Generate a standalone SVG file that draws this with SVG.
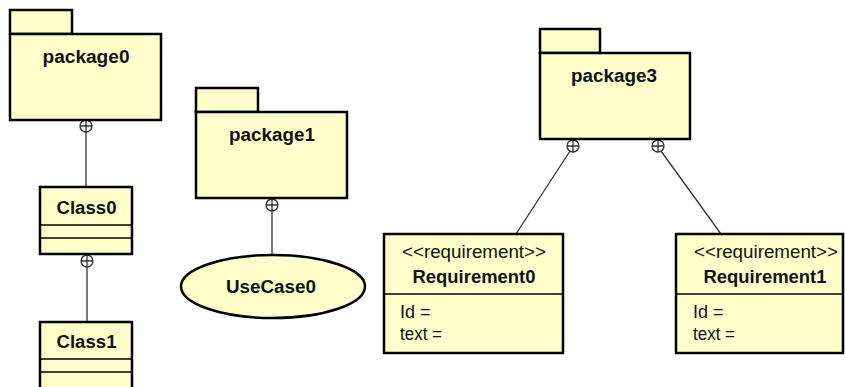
<svg xmlns="http://www.w3.org/2000/svg" width="845" height="387" viewBox="0 0 845 387">
<style>
.box{fill:#ffffcc;stroke:#000;stroke-width:2.5}
.div{stroke:#000;stroke-width:1.5}
.t{font-family:"Liberation Sans",Arial,sans-serif;font-size:18px;fill:#111}
.b{font-weight:bold;text-anchor:middle}
.s{text-anchor:middle}
.ln{stroke:#333;stroke-width:1.3;fill:none}
.cp{fill:#fff;stroke:#333;stroke-width:1.3}
</style>
<rect width="845" height="387" fill="#fff"/>
<g id="connectors">
<line class="ln" x1="86" y1="132" x2="86" y2="187"/>
<circle class="cp" cx="86" cy="126" r="6"/><path class="ln" d="M80 126H92M86 120V132"/>
<line class="ln" x1="87" y1="267" x2="87" y2="322"/>
<circle class="cp" cx="87" cy="261" r="6"/><path class="ln" d="M81 261H93M87 255V267"/>
<line class="ln" x1="272" y1="211" x2="272" y2="255"/>
<circle class="cp" cx="272" cy="205" r="6"/><path class="ln" d="M266 205H278M272 199V211"/>
<line class="ln" x1="570" y1="151" x2="516" y2="234"/>
<circle class="cp" cx="573" cy="146" r="6"/><path class="ln" d="M567 146H579M573 140V152"/>
<line class="ln" x1="661" y1="151" x2="721" y2="234"/>
<circle class="cp" cx="658" cy="146" r="6"/><path class="ln" d="M652 146H664M658 140V152"/>
</g>
<g id="package0">
<rect class="box" x="10" y="10" width="62" height="24"/>
<rect class="box" x="10" y="34" width="151" height="86"/>
<text class="t b" x="86" y="63" textLength="87" lengthAdjust="spacingAndGlyphs">package0</text>
</g>
<g id="package1">
<rect class="box" x="196" y="88" width="62" height="24"/>
<rect class="box" x="196" y="112" width="151" height="86"/>
<text class="t b" x="272" y="141" textLength="86" lengthAdjust="spacingAndGlyphs">package1</text>
</g>
<g id="package3">
<rect class="box" x="540" y="29" width="60" height="24"/>
<rect class="box" x="540" y="53" width="150" height="86"/>
<text class="t b" x="614" y="82" textLength="86" lengthAdjust="spacingAndGlyphs">package3</text>
</g>
<g id="Class0">
<rect class="box" x="40" y="187" width="92" height="67"/>
<line class="div" x1="40" y1="225" x2="132" y2="225"/>
<line class="div" x1="40" y1="238" x2="132" y2="238"/>
<text class="t b" x="86.5" y="214" textLength="60" lengthAdjust="spacingAndGlyphs">Class0</text>
</g>
<g id="Class1">
<rect class="box" x="40" y="322" width="92" height="70"/>
<line class="div" x1="40" y1="359" x2="132" y2="359"/>
<line class="div" x1="40" y1="372" x2="132" y2="372"/>
<text class="t b" x="86.5" y="348" textLength="60" lengthAdjust="spacingAndGlyphs">Class1</text>
</g>
<g id="UseCase0">
<ellipse class="box" cx="273" cy="286.5" rx="92" ry="31.5"/>
<text class="t b" x="271" y="293" textLength="90" lengthAdjust="spacingAndGlyphs">UseCase0</text>
</g>
<g id="Requirement0">
<rect class="box" x="384" y="234" width="179" height="119"/>
<line class="div" x1="384" y1="294" x2="563" y2="294"/>
<text class="t s" x="474" y="258" textLength="144" lengthAdjust="spacingAndGlyphs">&lt;&lt;requirement&gt;&gt;</text>
<text class="t b" x="474" y="283" textLength="123" lengthAdjust="spacingAndGlyphs">Requirement0</text>
<text class="t" x="400" y="318">Id =</text>
<text class="t" x="400" y="340" textLength="42" lengthAdjust="spacingAndGlyphs">text =</text>
</g>
<g id="Requirement1">
<rect class="box" x="676" y="234" width="167" height="119"/>
<line class="div" x1="676" y1="294" x2="843" y2="294"/>
<text class="t s" x="766" y="258" textLength="144" lengthAdjust="spacingAndGlyphs">&lt;&lt;requirement&gt;&gt;</text>
<text class="t b" x="765" y="283" textLength="123" lengthAdjust="spacingAndGlyphs">Requirement1</text>
<text class="t" x="693" y="318">Id =</text>
<text class="t" x="693" y="340" textLength="42" lengthAdjust="spacingAndGlyphs">text =</text>
</g>
</svg>
